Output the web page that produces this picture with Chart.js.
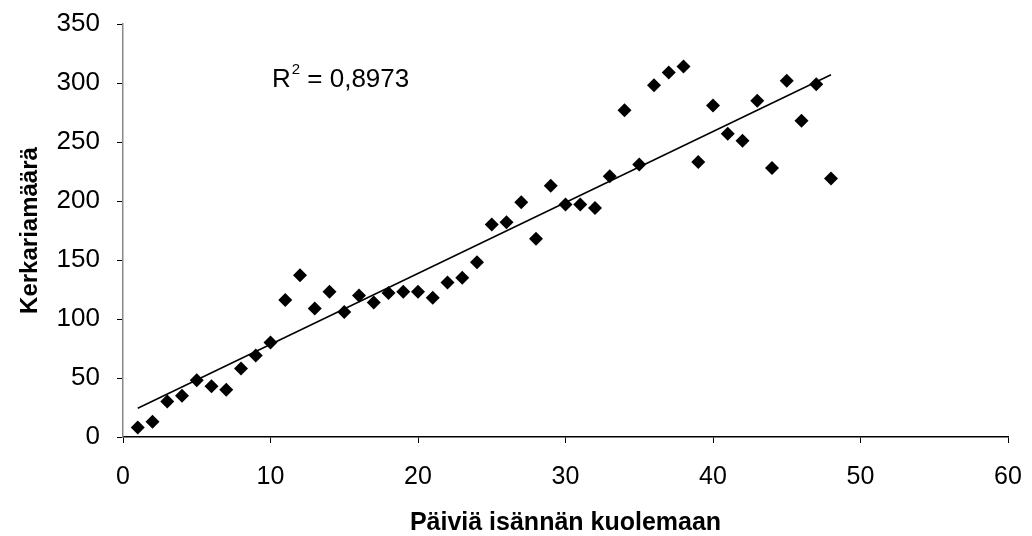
<!DOCTYPE html>
<html>
<head>
<meta charset="utf-8">
<script src="https://cdn.jsdelivr.net/npm/chart.js@4/dist/chart.umd.min.js"></script>
<style>
  html, body { margin: 0; padding: 0; background: #fff; }
  #wrap { width: 1032px; height: 536px; }
</style>
</head>
<body>
<div id="wrap"><canvas id="chart" width="1032" height="536"></canvas></div>
<script>
// days until host death
var days = [1,2,3,4,5,6,7,8,9,10,11,12,13,14,15,16,17,18,19,20,21,22,23,24,
            25,26,27,28,29,30,31,32,33,34,35,36,37,38,39,40,41,42,43,44,45,46,47,48];
// cercaria count
var counts = [8,13,30,35,48,43,40,58,69,80,116,137,109,123,106,120,114,122,123,123,118,131,135,148,
              180,182,199,168,213,197,197,194,221,277,231,298,309,314,233,281,257,251,285,228,302,268,299,219];
var xTicks = [0,10,20,30,40,50,60];
var yTicks = [0,50,100,150,200,250,300,350];
var r2Label = "0,8973";

// least squares trend line
function fit(xs, ys) {
  var n = xs.length, sx = 0, sy = 0, sxx = 0, sxy = 0;
  for (var i = 0; i < n; i++) {
    sx += xs[i]; sy += ys[i]; sxx += xs[i]*xs[i]; sxy += xs[i]*ys[i];
  }
  var b = (n*sxy - sx*sy) / (n*sxx - sx*sx);
  var a = (sy - b*sx) / n;
  return {a: a, b: b};
}
var lf = fit(days, counts);
var x0 = days[0], x1 = days[days.length-1];
var trend = [{x: x0, y: lf.a + lf.b*x0}, {x: x1, y: lf.a + lf.b*x1}];

var points = days.map(function(d, i) { return {x: d, y: counts[i]}; });

var font = "'Liberation Sans', Arial, sans-serif";

// R^2 label inside the plot
var r2Plugin = {
  id: 'r2',
  afterDatasetsDraw: function(chart) {
    var ctx = chart.ctx;
    var px = chart.scales.x.getPixelForValue(10.1);
    var py = chart.scales.y.getPixelForValue(297);
    ctx.save();
    ctx.fillStyle = '#000';
    ctx.textBaseline = 'alphabetic';
    ctx.textAlign = 'left';
    ctx.font = '26px ' + font;
    ctx.fillText('R', px, py);
    var w = ctx.measureText('R').width;
    ctx.font = '15px ' + font;
    ctx.fillText('2', px + w + 1, py - 13);
    var w2 = ctx.measureText('2').width;
    ctx.font = '26px ' + font;
    ctx.fillText(' = ' + r2Label, px + w + w2 + 1, py);
    ctx.restore();
  }
};

new Chart(document.getElementById('chart').getContext('2d'), {
  type: 'scatter',
  data: {
    datasets: [{
      data: points,
      pointStyle: 'rectRot',
      pointRadius: 7,
      pointHoverRadius: 7,
      backgroundColor: '#000',
      borderColor: '#000',
      borderWidth: 0,
      order: 2
    }, {
      type: 'line',
      data: trend,
      borderColor: '#000',
      borderWidth: 1.5,
      pointRadius: 0,
      fill: false,
      order: 1
    }]
  },
  options: {
    responsive: false,
    animation: false,
    events: [],
    layout: { padding: { top: 24, right: 24, left: 0, bottom: 0 } },
    plugins: { legend: { display: false }, tooltip: { enabled: false } },
    scales: {
      x: {
        type: 'linear',
        min: 0, max: 60,
        afterBuildTicks: function(s) { s.ticks = xTicks.map(function(v) { return {value: v}; }); },
        afterFit: function(s) { s.height = 99; s.paddingLeft = 0; s.paddingRight = 0; },
        grid: { display: true, drawOnChartArea: false, tickLength: 6, color: '#000', tickWidth: 1 },
        border: { color: '#000', width: 1.5 },
        ticks: { color: '#000', font: { family: font, size: 25 }, padding: 19, maxRotation: 0 },
        title: { display: true, text: 'Päiviä isännän kuolemaan', color: '#000',
                 font: { family: font, size: 25, weight: 'bold' }, padding: { top: 0, bottom: -2 } }
      },
      y: {
        type: 'linear',
        min: 0, max: 350,
        afterBuildTicks: function(s) { s.ticks = yTicks.map(function(v) { return {value: v}; }); },
        afterFit: function(s) { s.width = 123; s.paddingTop = 0; s.paddingBottom = 0; },
        grid: { display: true, drawOnChartArea: false, tickLength: 6, color: '#000', tickWidth: 1 },
        border: { color: '#888', width: 1.5 },
        ticks: { color: '#000', font: { family: font, size: 26 }, padding: 17 },
        title: { display: true, text: 'Kerkariamäärä', color: '#000',
                 font: { family: font, size: 24, weight: 'bold' }, padding: { top: 16, bottom: 0 } }
      }
    }
  },
  plugins: [r2Plugin]
});
</script>
</body>
</html>
